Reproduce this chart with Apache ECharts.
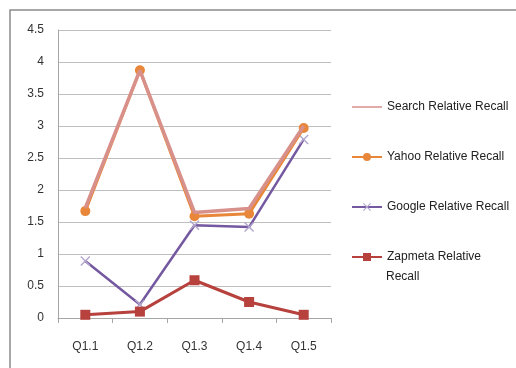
<!DOCTYPE html>
<html>
<head>
<meta charset="utf-8">
<script src="https://cdn.jsdelivr.net/npm/echarts@6/dist/echarts.min.js"></script>
<style>
  html, body { margin: 0; padding: 0; background: #fff; }
  #chart { width: 516px; height: 368px; }
</style>
</head>
<body>
<div id="chart"></div>
<script>
const categories = ['Q1.1', 'Q1.2', 'Q1.3', 'Q1.4', 'Q1.5']
const searchRecall = [1.72, 3.87, 1.65, 1.71, 3.0]
const yahooRecall = [1.67, 3.87, 1.59, 1.63, 2.97]
const googleRecall = [0.89, 0.21, 1.45, 1.42, 2.79]
const zapmetaRecall = [0.05, 0.1, 0.59, 0.25, 0.05]

const FONT = 'Liberation Sans'
const crossPath = 'path://M0,1L1,0L5,4L9,0L10,1L6,5L10,9L9,10L5,6L1,10L0,9L4,5Z'
// plain line icon for the series drawn without markers
const lineIcon = 'path://M0,0L0.01,0L0.01,0.01ZM30,10L29.99,10L29.99,9.99ZM0,4.2L30,4.2L30,5.8L0,5.8Z'

const chart = echarts.init(document.getElementById('chart'))

chart.setOption({
  backgroundColor: '#fff',
  animation: false,
  textStyle: { fontFamily: FONT },
  grid: { left: 58, top: 30, right: 185, bottom: 50 },
  xAxis: {
    type: 'category',
    data: categories,
    boundaryGap: true,
    axisLine: { lineStyle: { color: '#a6a6a6' } },
    axisTick: { show: true, length: 5, lineStyle: { color: '#a6a6a6' } },
    axisLabel: { color: '#333', fontSize: 12, margin: 23 }
  },
  yAxis: {
    type: 'value',
    min: 0,
    max: 4.5,
    interval: 0.5,
    axisLine: { show: true, lineStyle: { color: '#a6a6a6' } },
    axisTick: { show: false },
    axisLabel: { color: '#333', fontSize: 12, margin: 14 },
    splitLine: { lineStyle: { color: '#bfbfbf' } }
  },
  legend: {
    orient: 'vertical',
    left: 346,
    top: 96,
    itemWidth: 30,
    itemHeight: 10,
    itemGap: 38,
    textStyle: { fontFamily: FONT, fontSize: 12, color: '#222' },
    formatter: name => name === 'Zapmeta Relative Recall' ? 'Zapmeta Relative' : name,
    data: [
      { name: 'Search Relative Recall', icon: lineIcon },
      'Yahoo Relative Recall',
      'Google Relative Recall',
      'Zapmeta Relative Recall'
    ]
  },
  graphic: [
    {
      type: 'rect',
      shape: { x: 10, y: 10, width: 520, height: 400 },
      style: { fill: 'none', stroke: '#8c8c8c', lineWidth: 1.5 },
      z: -1
    },
    {
      type: 'text',
      left: 386,
      top: 271,
      style: { text: 'Recall', font: '12px ' + FONT, fill: '#222' }
    }
  ],
  series: [
    {
      name: 'Search Relative Recall',
      type: 'line',
      data: searchRecall,
      symbol: 'none',
      lineStyle: { color: '#d8908b', width: 3.5 },
      itemStyle: { color: '#d8908b' },
      z: 3
    },
    {
      name: 'Yahoo Relative Recall',
      type: 'line',
      data: yahooRecall,
      symbol: 'circle',
      symbolSize: 10,
      lineStyle: { color: '#e8873a', width: 3 },
      itemStyle: { color: '#e8873a' },
      z: 2
    },
    {
      name: 'Google Relative Recall',
      type: 'line',
      data: googleRecall,
      symbol: crossPath,
      symbolSize: 10,
      lineStyle: { color: '#7458a0', width: 2.5 },
      itemStyle: { color: '#b3a6cc' },
      z: 1
    },
    {
      name: 'Zapmeta Relative Recall',
      type: 'line',
      data: zapmetaRecall,
      symbol: 'rect',
      symbolSize: 10,
      lineStyle: { color: '#b6413d', width: 3 },
      itemStyle: { color: '#b6413d' },
      z: 1
    }
  ]
})
</script>
</body>
</html>
